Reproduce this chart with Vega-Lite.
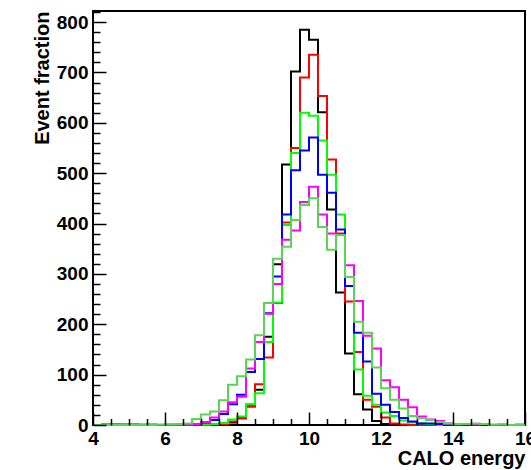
{
  "$schema": "https://vega.github.io/schema/vega-lite/v6.json",
  "width": 432,
  "height": 414,
  "autosize": "none",
  "padding": {"left": 93, "top": 11, "right": 6, "bottom": 45},
  "background": "white",
  "config": {
    "view": {"stroke": "#000000", "strokeWidth": 2},
    "font": "Liberation Sans"
  },
  "data": {
    "values": [
      {"e": 4.0, "k": 0, "r": 0, "g": 0, "b": 0, "m": 0, "l": 0},
      {"e": 4.25, "k": 0, "r": 0, "g": 0, "b": 1, "m": 0, "l": 0},
      {"e": 4.5, "k": 0, "r": 0, "g": 0, "b": 1, "m": 1, "l": 0},
      {"e": 4.75, "k": 0, "r": 0, "g": 0, "b": 1, "m": 0, "l": 0},
      {"e": 5.0, "k": 0, "r": 0, "g": 0, "b": 1, "m": 0, "l": 0},
      {"e": 5.25, "k": 0, "r": 0, "g": 0, "b": 0, "m": 1, "l": 0},
      {"e": 5.5, "k": 0, "r": 1, "g": 0, "b": 0, "m": 0, "l": 0},
      {"e": 5.75, "k": 0, "r": 0, "g": 0, "b": 0, "m": 0, "l": 1},
      {"e": 6.0, "k": 0, "r": 0, "g": 0, "b": 0, "m": 1, "l": 1},
      {"e": 6.25, "k": 0, "r": 0, "g": 0, "b": 1, "m": 0, "l": 2},
      {"e": 6.5, "k": 0, "r": 0, "g": 0, "b": 1, "m": 2, "l": 3},
      {"e": 6.75, "k": 0, "r": 0, "g": 1, "b": 1, "m": 2, "l": 12},
      {"e": 7.0, "k": 1, "r": 0, "g": 1, "b": 5, "m": 6, "l": 21},
      {"e": 7.25, "k": 2, "r": 1, "g": 2, "b": 10, "m": 15, "l": 27},
      {"e": 7.5, "k": 2, "r": 2, "g": 4, "b": 22, "m": 27, "l": 49},
      {"e": 7.75, "k": 5, "r": 7, "g": 11, "b": 41, "m": 45, "l": 80},
      {"e": 8.0, "k": 14, "r": 13, "g": 17, "b": 60, "m": 56, "l": 97},
      {"e": 8.25, "k": 40, "r": 36, "g": 41, "b": 105, "m": 112, "l": 130},
      {"e": 8.5, "k": 70, "r": 81, "g": 63, "b": 131, "m": 165, "l": 178},
      {"e": 8.75, "k": 175, "r": 134, "g": 165, "b": 222, "m": 221, "l": 242},
      {"e": 9.0, "k": 319, "r": 242, "g": 243, "b": 295, "m": 280, "l": 330},
      {"e": 9.25, "k": 517, "r": 402, "g": 397, "b": 418, "m": 368, "l": 354},
      {"e": 9.5, "k": 702, "r": 550, "g": 540, "b": 506, "m": 386, "l": 407},
      {"e": 9.75, "k": 785, "r": 690, "g": 620, "b": 545, "m": 443, "l": 437},
      {"e": 10.0, "k": 765, "r": 735, "g": 614, "b": 571, "m": 473, "l": 450},
      {"e": 10.25, "k": 621, "r": 653, "g": 565, "b": 497, "m": 418, "l": 393},
      {"e": 10.5, "k": 428, "r": 527, "g": 497, "b": 461, "m": 380, "l": 348},
      {"e": 10.75, "k": 263, "r": 380, "g": 418, "b": 388, "m": 377, "l": 377},
      {"e": 11.0, "k": 142, "r": 245, "g": 294, "b": 276, "m": 317, "l": 294},
      {"e": 11.25, "k": 61, "r": 145, "g": 110, "b": 183, "m": 246, "l": 205},
      {"e": 11.5, "k": 31, "r": 50, "g": 58, "b": 126, "m": 177, "l": 183},
      {"e": 11.75, "k": 8, "r": 36, "g": 40, "b": 62, "m": 152, "l": 114},
      {"e": 12.0, "k": 2, "r": 15, "g": 25, "b": 40, "m": 89, "l": 73},
      {"e": 12.25, "k": 1, "r": 3, "g": 18, "b": 26, "m": 75, "l": 50},
      {"e": 12.5, "k": 0, "r": 1, "g": 9, "b": 14, "m": 50, "l": 33},
      {"e": 12.75, "k": 0, "r": 0, "g": 5, "b": 7, "m": 35, "l": 18},
      {"e": 13.0, "k": 0, "r": 0, "g": 3, "b": 3, "m": 17, "l": 14},
      {"e": 13.25, "k": 0, "r": 0, "g": 2, "b": 3, "m": 11, "l": 10},
      {"e": 13.5, "k": 0, "r": 0, "g": 0, "b": 2, "m": 8, "l": 6},
      {"e": 13.75, "k": 0, "r": 0, "g": 0, "b": 0, "m": 3, "l": 3},
      {"e": 14.0, "k": 0, "r": 0, "g": 0, "b": 0, "m": 1, "l": 2},
      {"e": 14.25, "k": 0, "r": 0, "g": 0, "b": 0, "m": 2, "l": 2},
      {"e": 14.5, "k": 0, "r": 0, "g": 0, "b": 0, "m": 1, "l": 3},
      {"e": 14.75, "k": 0, "r": 0, "g": 0, "b": 0, "m": 2, "l": 2},
      {"e": 15.0, "k": 0, "r": 0, "g": 0, "b": 0, "m": 0, "l": 1},
      {"e": 15.25, "k": 0, "r": 0, "g": 0, "b": 0, "m": 1, "l": 1},
      {"e": 15.5, "k": 0, "r": 0, "g": 0, "b": 0, "m": 0, "l": 0},
      {"e": 15.75, "k": 0, "r": 0, "g": 0, "b": 0, "m": 1, "l": 0},
      {"e": 16.0, "k": 0, "r": 0, "g": 0, "b": 0, "m": 1, "l": 0}
    ]
  },
  "transform": [
    {"fold": ["k", "r", "g", "b", "m", "l"], "as": ["s", "n"]}
  ],
  "layer": [
    {
      "mark": {"type": "line", "opacity": 0},
      "encoding": {
        "x": {
          "field": "e", "type": "quantitative",
          "scale": {"domain": [4, 16], "nice": false, "zero": false},
          "axis": {
            "orient": "bottom",
            "values": [4.5, 5, 5.5, 6.5, 7, 7.5, 8.5, 9, 9.5, 10.5, 11, 11.5, 12.5, 13, 13.5, 14.5, 15, 15.5],
            "labels": false, "title": null, "domain": false, "grid": false,
            "tickSize": -6.5, "tickColor": "#000000", "tickWidth": 1.5, "zindex": 1
          }
        },
        "y": {
          "field": "n", "type": "quantitative",
          "scale": {"domain": [0, 822], "nice": false},
          "axis": {
            "orient": "left",
            "values": [20, 40, 60, 80, 120, 140, 160, 180, 220, 240, 260, 280, 320, 340, 360, 380, 420, 440, 460, 480, 520, 540, 560, 580, 620, 640, 660, 680, 720, 740, 760, 780, 820],
            "labels": false, "title": null, "domain": false, "grid": false,
            "tickSize": -7, "tickColor": "#000000", "tickWidth": 1.5, "zindex": 1
          }
        },
        "detail": {"field": "s"}
      }
    },
    {
      "mark": {"type": "line", "interpolate": "step-after", "strokeWidth": 2},
      "encoding": {
        "x": {
          "field": "e", "type": "quantitative",
          "scale": {"domain": [4, 16], "nice": false, "zero": false},
          "axis": {
            "orient": "bottom",
            "values": [4, 6, 8, 10, 12, 14, 16],
            "format": "d",
            "domain": false, "grid": false,
            "tickSize": -13, "tickColor": "#000000", "tickWidth": 1.5,
            "labelPadding": 17, "labelFontSize": 19, "labelFontWeight": "bold",
            "labelColor": "#000000", "labelFlush": false, "labelOverlap": false,
            "labelBaseline": "top",
            "title": "CALO energy", "titleAnchor": "end", "titleFontSize": 20,
            "titleFontWeight": "bold", "titleColor": "#000000", "titlePadding": 0,
            "zindex": 1
          }
        },
        "y": {
          "field": "n", "type": "quantitative",
          "scale": {"domain": [0, 822], "nice": false},
          "axis": {
            "orient": "left",
            "values": [0, 100, 200, 300, 400, 500, 600, 700, 800],
            "domain": false, "grid": false,
            "tickSize": -13, "tickColor": "#000000", "tickWidth": 1.5,
            "labelPadding": 18, "labelFontSize": 19, "labelFontWeight": "bold",
            "labelColor": "#000000", "labelOverlap": false, "labelFlush": false,
            "title": "Event fraction", "titleAnchor": "end", "titleFontSize": 20,
            "titleFontWeight": "bold", "titleColor": "#000000", "titlePadding": 4,
            "zindex": 1
          }
        },
        "color": {
          "field": "s", "type": "nominal",
          "scale": {
            "domain": ["k", "r", "g", "b", "m", "l"],
            "range": ["#000000", "#ff0000", "#00ff00", "#0000ff", "#ff00ff", "#59d454"]
          },
          "legend": null
        }
      }
    }
  ],
  "resolve": {"axis": {"x": "independent", "y": "independent"}}
}
